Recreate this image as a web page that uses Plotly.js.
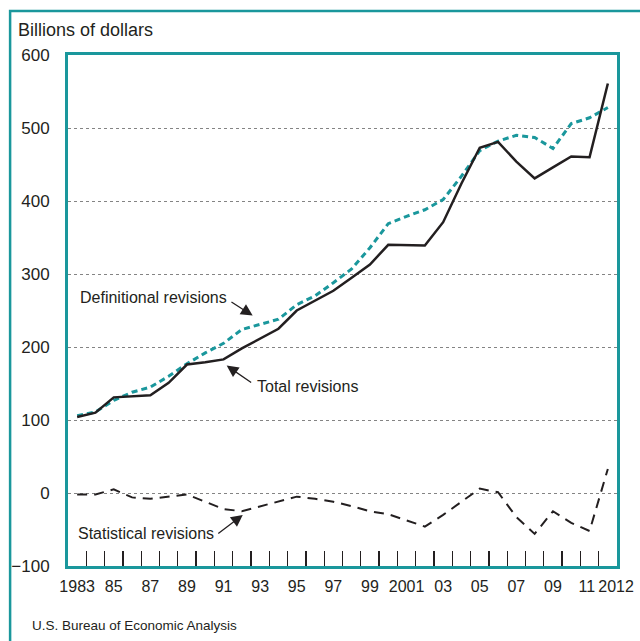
<!DOCTYPE html>
<html>
<head>
<meta charset="utf-8">
<script src="https://cdn.plot.ly/plotly-3.0.1.min.js"></script>
<style>html,body{margin:0;padding:0;background:#fff;}#chart{width:640px;height:641px;}</style>
</head>
<body>
<div id="chart"></div>
<script>
// ---- data ----
const years = [1983,1984,1985,1986,1987,1988,1989,1990,1991,1992,1993,1994,1995,1996,1997,1998,1999,2000,2001,2002,2003,2004,2005,2006,2007,2008,2009,2010,2011,2012];
const totalRevisions = [104,110,131,132,134,151,176,179,183,198,212,225,250,263,277,295,313,340,340,339,371,424,473,481,454,431,446,461,460,561];
const definitionalRevisions = [106,111,127,138,145,160,177,192,205,224,231,238,258,270,288,307,336,369,379,388,402,434,469,482,490,487,472,506,514,528];
const statisticalRevisions = [-2,-2,5,-6,-8,-5,-2,-12,-22,-25,-18,-12,-5,-8,-12,-18,-25,-29,-37,-46,-30,-12,6,1,-33,-56,-25,-41,-52,33];
const yTickVals = [-100,0,100,200,300,400,500,600];
const yTickText = ['\u2212100','0','100','200','300','400','500','600'];
const xLabelVals = [1983,1985,1987,1989,1991,1993,1995,1997,1999,2001,2003,2005,2007,2009,2010.85,2012.45];
const xLabelText = ['1983','85','87','89','91','93','95','97','99','2001','03','05','07','09','11','2012'];
const xTickMarks = [];
for (let y = 1983.5; y < 2012; y += 1) xTickMarks.push(y);

const teal = '#1a979c';
const ink = '#231f20';
const font = 'Liberation Sans, Arial, sans-serif';

const traces = [
  {x: years, y: statisticalRevisions, type: 'scatter', mode: 'lines',
   line: {color: ink, width: 2, dash: '10px,7px'}, hoverinfo: 'skip'},
  {x: years, y: definitionalRevisions, type: 'scatter', mode: 'lines',
   line: {color: teal, width: 3, dash: '6px,4px'}, hoverinfo: 'skip'},
  {x: years, y: totalRevisions, type: 'scatter', mode: 'lines',
   line: {color: ink, width: 2.5}, hoverinfo: 'skip'}
];

const layout = {
  width: 640, height: 641,
  margin: {l: 68, r: 23, t: 55, b: 75},
  paper_bgcolor: '#fff', plot_bgcolor: '#fff',
  showlegend: false,
  font: {family: font, color: ink, size: 16},
  title: {text: 'Billions of dollars', x: 18/640, xanchor: 'left', xref: 'container',
          y: 1 - 30/641, yanchor: 'middle', yref: 'container',
          font: {family: font, size: 18, color: ink}},
  xaxis: {
    range: [1982.5, 2012.5], tickmode: 'array', tickvals: xLabelVals, ticktext: xLabelText,
    tickangle: 0, ticks: '', showgrid: false, zeroline: false,
    showline: true, linecolor: teal, linewidth: 3, mirror: true,
    tickfont: {size: 16, color: ink}, ticklabelstandoff: 4,
    minor: {tickmode: 'array', tickvals: xTickMarks, ticks: 'inside', ticklen: 15,
            tickcolor: ink, tickwidth: 1.3, showgrid: false}
  },
  yaxis: {
    range: [-100, 600], tickmode: 'array', tickvals: yTickVals, ticktext: yTickText,
    ticks: '', showgrid: true, gridcolor: '#777', griddash: 'dot', gridwidth: 0.9,
    zeroline: false, showline: true, linecolor: teal, linewidth: 3, mirror: true,
    tickfont: {size: 17, color: ink}, ticklabelstandoff: 12
  },
  shapes: [
    {type: 'rect', xref: 'paper', yref: 'paper',
     x0: (10-68)/550, x1: 1.2, y0: (566-700)/511, y1: (566-11)/511,
     line: {color: teal, width: 2.5}, fillcolor: 'rgba(0,0,0,0)', layer: 'below'}
  ],
  annotations: [
    {text: 'Definitional revisions', x: 1983.05, y: 268, xref: 'x', yref: 'y',
     xanchor: 'left', yanchor: 'middle', showarrow: false, font: {size: 16, color: ink}},
    {text: '', x: 1992.59, y: 243, ax: 1991.35, ay: 263, xref: 'x', yref: 'y', axref: 'x', ayref: 'y',
     showarrow: true, arrowhead: 2, arrowsize: 1.8, arrowwidth: 1.3, arrowcolor: ink},
    {text: 'Total revisions', x: 1992.72, y: 146, xref: 'x', yref: 'y',
     xanchor: 'left', yanchor: 'middle', showarrow: false, font: {size: 16, color: ink}},
    {text: '', x: 1991.17, y: 174.5, ax: 1992.59, ay: 150, xref: 'x', yref: 'y', axref: 'x', ayref: 'y',
     showarrow: true, arrowhead: 2, arrowsize: 1.8, arrowwidth: 1.3, arrowcolor: ink},
    {text: 'Statistical revisions', x: 1982.94, y: -56, xref: 'x', yref: 'y',
     xanchor: 'left', yanchor: 'middle', showarrow: false, font: {size: 16, color: ink}},
    {text: '', x: 1992.05, y: -30, ax: 1990.63, ay: -57, xref: 'x', yref: 'y', axref: 'x', ayref: 'y',
     showarrow: true, arrowhead: 2, arrowsize: 1.8, arrowwidth: 1.3, arrowcolor: ink},
    {text: 'U.S. Bureau of Economic Analysis', xref: 'paper', yref: 'paper',
     x: (30-68)/550, y: (566-625)/511, xanchor: 'left', yanchor: 'middle',
     showarrow: false, font: {size: 13.5, color: ink}}
  ]
};

Plotly.newPlot('chart', traces, layout, {staticPlot: true, displayModeBar: false});
</script>
</body>
</html>
